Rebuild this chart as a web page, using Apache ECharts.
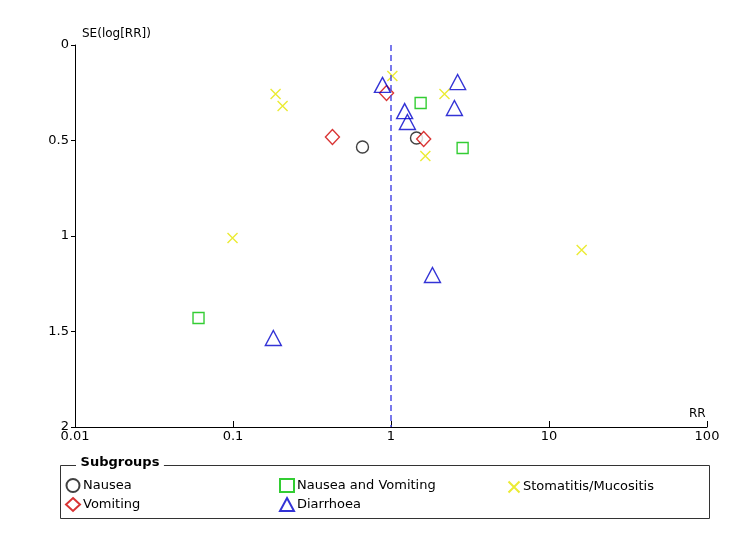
<!DOCTYPE html>
<html><head><meta charset="utf-8">
<script src="https://cdn.jsdelivr.net/npm/echarts@6/dist/echarts.min.js"></script>
<style>html,body{margin:0;padding:0;background:#fff}#c{width:750px;height:535px}</style>
</head><body><div id="c"></div>
<script>
// [RR, SE(log[RR])]
const nausea = [[0.66, 0.534], [1.45, 0.487]];
const vomiting = [[0.426, 0.482], [0.937, 0.251], [1.61, 0.492]];
const nauseaVomiting = [[1.54, 0.304], [2.84, 0.539], [0.0605, 1.429]];
const stomatitis = [[0.186, 0.257], [0.206, 0.319], [1.02, 0.162], [2.18, 0.257], [1.65, 0.581], [0.0993, 1.010], [16.1, 1.073]];
const diarrhoea = [[0.883, 0.209], [2.64, 0.194], [1.22, 0.346], [1.27, 0.403], [2.52, 0.330], [1.83, 1.204], [0.180, 1.534]];
const xTicks = [0.01, 0.1, 1, 10, 100];
const yTicks = [0, 0.5, 1, 1.5, 2];
const refRR = 1;

const FONT = 'DejaVu Sans';
const chart = echarts.init(document.getElementById('c'), null, {renderer: 'canvas'});
const hollow = (c) => ({color: '#fff', borderColor: c, borderWidth: 1.4});
const xPath = 'path://M0,0L10,10M10,0L0,10';
const legText = {fontFamily: FONT, fontSize: 13, color: '#000', padding: [0, 0, 0, -2]};
const option = {
  animation: false,
  textStyle: {fontFamily: FONT},
  grid: {left: 75, right: 43, top: 45, bottom: 108},
  xAxis: {
    type: 'log', min: 0.01, max: 100, logBase: 10, position: 'bottom',
    axisLine: {onZero: false, lineStyle: {color: '#000', width: 1}},
    axisTick: {inside: true, length: 6, lineStyle: {color: '#000'}},
    axisLabel: {color: '#000', fontSize: 13, fontFamily: FONT, margin: 3,
      formatter: v => { const t = xTicks.find(k => Math.abs(k - v) / k < 1e-6); return t === undefined ? '' : String(t); }},
    splitLine: {show: false}, minorTick: {show: false}
  },
  yAxis: {
    type: 'value', inverse: true, min: 0, max: 2, interval: 0.5,
    axisLine: {show: true, onZero: false, lineStyle: {color: '#000', width: 1}},
    axisTick: {show: true, length: 4, lineStyle: {color: '#000'}},
    axisLabel: {color: '#000', fontSize: 13, fontFamily: FONT, margin: 6,
      formatter: v => { const t = yTicks.find(k => Math.abs(k - v) < 1e-9); return t === undefined ? '' : String(t); }},
    splitLine: {show: false}
  },
  legend: [
    {left: 60, top: 473, orient: 'vertical', itemGap: 4, itemWidth: 14, itemHeight: 13,
      textStyle: legText, data: ['Nausea', 'Vomiting'], selectedMode: false},
    {left: 274, top: 473, orient: 'vertical', itemGap: 4, itemWidth: 14, itemHeight: 13,
      textStyle: legText, data: ['Nausea and Vomiting', 'Diarrhoea'], selectedMode: false},
    {left: 501, top: 474, orient: 'vertical', itemGap: 4, itemWidth: 12, itemHeight: 11,
      textStyle: legText, data: ['Stomatitis/Mucositis'], selectedMode: false}
  ],
  graphic: [
    {type: 'rect', left: 58, top: 463, shape: {width: 649, height: 53}, style: {fill: 'none', stroke: '#333', lineWidth: 1}, silent: true},
    {type: 'text', left: 76, top: 456, style: {text: ' Subgroups ', font: 'bold 13px "DejaVu Sans"', fill: '#000', backgroundColor: '#fff'}},
    {type: 'text', left: 82, top: 28, style: {text: 'SE(log[RR])', font: '12px "DejaVu Sans"', fill: '#000'}},
    {type: 'text', left: 689, top: 408, style: {text: 'RR', font: '12px "DejaVu Sans"', fill: '#000'}}
  ],
  series: [
    {name: 'Nausea', type: 'scatter', data: nausea, symbol: 'circle', symbolSize: 12, itemStyle: hollow('#111'), z: 3,
      markLine: {silent: true, symbol: 'none', label: {show: false},
        lineStyle: {color: '#4d4de6', type: [6, 4], width: 1.5}, data: [{xAxis: refRR}]}},
    {name: 'Vomiting', type: 'scatter', data: vomiting, symbol: 'diamond', symbolSize: [14, 15], itemStyle: hollow('#d00000'), z: 3},
    {name: 'Nausea and Vomiting', type: 'scatter', data: nauseaVomiting, symbol: 'rect', symbolSize: 11, itemStyle: hollow('#00c000'), z: 3},
    {name: 'Diarrhoea', type: 'scatter', data: diarrhoea, symbol: 'triangle', symbolSize: [16, 15], itemStyle: {color: 'rgba(255,255,255,0)', borderColor: '#0000cc', borderWidth: 1.4}, z: 3},
    {name: 'Stomatitis/Mucositis', type: 'scatter', data: stomatitis, symbol: xPath, symbolSize: 10, itemStyle: {color: 'none', borderColor: '#e6e600', borderWidth: 1.4}, z: 3}
  ]
};
chart.setOption(option);
</script></body></html>
